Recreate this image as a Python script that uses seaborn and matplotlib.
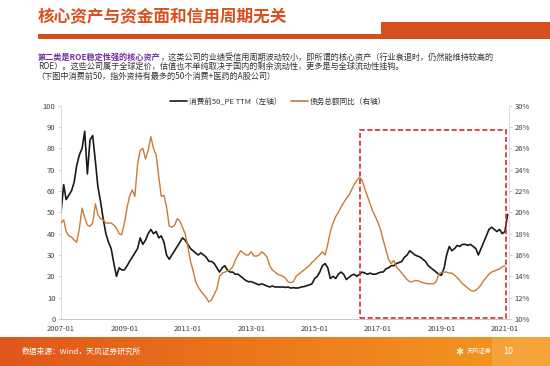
import pandas as pd
import matplotlib.pyplot as plt
import matplotlib.dates as mdates
from matplotlib.patches import Rectangle
from matplotlib.lines import Line2D
from matplotlib.colors import LinearSegmentedColormap
import numpy as np
import seaborn as sns

# 消费前50_PE TTM (left axis), monthly, 2007-01 .. 2021-02
pe_ttm = [
    50, 63, 56, 58, 60, 64, 72, 77, 80, 88, 68, 84,          # 2007
    86, 74, 62, 55, 47, 40, 36, 33, 26, 20, 24, 23,          # 2008
    23, 25, 27, 29, 31, 33, 38, 35, 37, 40, 42, 40,          # 2009
    41, 38, 39, 36, 30, 28, 30, 32, 34, 36, 38, 37,          # 2010
    35, 33, 32, 31, 30, 31, 30, 29, 27, 27, 26, 24,          # 2011
    22, 24, 25, 23, 22, 22, 21, 21, 20, 19, 18, 17.5,        # 2012
    17.5, 17, 16.5, 16, 16.5, 16, 15.5, 15, 15.5, 15, 15, 15,  # 2013
    15, 14.8, 15, 14.5, 14.7, 14.5, 14.6, 15, 15.2, 15.6, 16, 16.5,  # 2014
    19, 20, 22, 25, 26, 24, 19, 20, 19, 21, 22, 21,          # 2015
    18.5, 19.5, 20.5, 21, 20, 21, 22, 21.5, 21, 21.5, 21, 21,  # 2016
    21.5, 22, 22, 23.5, 24, 25, 25, 26, 26.5, 27, 29, 30,    # 2017
    32, 31, 30, 29.5, 29, 28, 27, 25, 24, 23, 22, 21,        # 2018
    20.5, 24, 30, 34, 32, 33, 34.5, 34, 35, 35, 34.5, 35,    # 2019
    34, 33, 30, 33, 36, 39, 42, 43, 42, 41, 42, 40,          # 2020
    41, 49,                                                  # 2021
]

# 债务总额同比 (right axis, %), monthly, 2007-01 .. 2021-01
debt_yoy = [
    19.0, 19.3, 18.2, 17.8, 17.7, 17.4, 17.2, 18.5, 20.4, 19.5, 18.8, 18.7,  # 2007
    19.0, 20.8, 19.8, 19.4, 19.3, 19.0, 19.0, 19.0, 18.8, 18.5, 18.0, 17.9,  # 2008
    19.0, 20.5, 21.5, 22.1, 21.5, 24.5, 25.8, 26.0, 25.0, 25.8, 27.1, 26.0,  # 2009
    25.4, 23.3, 21.5, 21.6, 20.5, 18.7, 18.6, 18.8, 19.4, 19.2, 18.6, 18.0,  # 2010
    16.8, 15.4, 14.6, 13.5, 13.0, 12.6, 12.3, 12.0, 11.6, 11.8, 12.3, 12.8,  # 2011
    14.0, 14.3, 14.4, 14.5, 14.6, 14.9, 15.5, 16.0, 16.4, 16.2, 16.0, 16.0,  # 2012
    16.3, 15.9, 15.9, 16.0, 16.3, 16.1, 15.8, 15.0, 14.6, 14.4, 14.2, 14.1,  # 2013
    14.0, 13.8, 13.5, 13.4, 13.5, 14.0, 14.2, 14.4, 14.6, 14.8, 15.0, 15.3,  # 2014
    15.5, 15.8, 16.0, 16.3, 16.0, 17.0, 18.2, 19.0, 19.6, 20.0, 20.5, 20.9,  # 2015
    21.3, 21.6, 22.1, 22.6, 23.0, 23.3, 23.0, 22.2, 21.5, 20.8, 20.1, 19.6,  # 2016
    19.0, 18.3, 17.4, 16.5, 15.6, 15.2, 15.5, 14.9, 14.6, 14.3, 14.0, 13.7,  # 2017
    13.5, 13.5, 13.6, 13.6, 13.5, 13.4, 13.35, 13.3, 13.3, 13.3, 13.5, 14.2, # 2018
    14.4, 14.4, 14.4, 14.3, 14.3, 14.1, 13.9, 13.6, 13.3, 13.1, 12.9, 12.7,  # 2019
    12.6, 12.7, 12.9, 13.2, 13.6, 13.9, 14.2, 14.4, 14.5, 14.6, 14.7, 14.9,  # 2020
    15.0,                                                                    # 2021
]

pe_df = pd.DataFrame({"date": pd.date_range("2007-01-01", periods=len(pe_ttm), freq="MS"),
                      "pe": pe_ttm})
debt_df = pd.DataFrame({"date": pd.date_range("2007-01-01", periods=len(debt_yoy), freq="MS"),
                        "yoy": debt_yoy})

sns.set_theme(style="white")
plt.rcParams["font.family"] = ["Noto Sans CJK SC", "DejaVu Sans"]

W, H = 550, 366
fig = plt.figure(figsize=(5.5, 3.66), dpi=100)
fig.patch.set_facecolor("white")

# header
fig.text(38 / W, 1 - 17 / H, "核心资产与资金面和信用周期无关", fontsize=12, fontweight="bold",
         color="#D9501E", va="center")
fig.add_artist(Rectangle((38 / W, 1 - 39 / H), (381 - 38) / W, 5 / H,
                         transform=fig.transFigure, color="#D4501C", lw=0))
fig.add_artist(Rectangle((381 / W, 1 - 39.3 / H), (W - 381) / W, 17.6 / H,
                         transform=fig.transFigure, color="#D4501C", lw=0))

# paragraph
fs = 5.9
t1 = fig.text(38 / W, 1 - 57 / H, "第二类是ROE稳定性强的核心资产", fontsize=fs, fontweight="bold",
              color="#7030A0", va="center")
fig.canvas.draw()
bb = t1.get_window_extent()
fig.text(bb.x1 / fig.bbox.width, 1 - 57 / H,
         "，这类公司的业绩受信用周期波动较小，即所谓的核心资产（行业衰退时，仍然能维持较高的",
         fontsize=fs, color="#333333", va="center")
fig.text(38 / W, 1 - 66.5 / H,
         "ROE）。这些公司属于全球定价，估值也不单纯取决于国内的剩余流动性，更多是与全球流动性挂钩。",
         fontsize=fs, color="#333333", va="center")
fig.text(36 / W, 1 - 76 / H, "（下图中消费前50，指外资持有最多的50个消费+医药的A股公司）",
         fontsize=fs, color="#333333", va="center")

# chart
ax = fig.add_axes([61 / W, 47 / H, 448 / W, 213.3 / H])
ax2 = ax.twinx()

sns.lineplot(data=pe_df, x="date", y="pe", ax=ax, color="#1a1a1a", lw=1.2)
sns.lineplot(data=debt_df, x="date", y="yoy", ax=ax2, color="#C77C35", lw=1.0)

ax.set_xlim(pd.Timestamp("2007-01-01"), pd.Timestamp("2021-02-17"))
ax.set_ylim(0, 100)
ax2.set_ylim(10, 30)
ax.set_yticks(range(0, 101, 10))
ax2.set_yticks(range(10, 31, 2))
ax2.yaxis.set_major_formatter(lambda v, p: f"{v:.0f}%")
ax.set_xticks(pd.date_range("2007-01-01", "2021-01-01", freq="24MS"))
ax.xaxis.set_major_formatter(mdates.DateFormatter("%Y-%m"))
for a in (ax, ax2):
    a.set_xlabel("")
    a.set_ylabel("")
    a.spines["top"].set_visible(False)
    a.tick_params(labelsize=5.5, labelcolor="#404040", length=2, width=0.5,
                  color="#bfbfbf", pad=2)
ax.spines["left"].set_color("#d9d9d9")
ax.spines["bottom"].set_color("#bfbfbf")
ax.spines["right"].set_visible(False)
ax2.spines["left"].set_visible(False)
ax2.spines["bottom"].set_visible(False)
ax2.spines["right"].set_color("#d9d9d9")
for s in ("left", "bottom"):
    ax.spines[s].set_linewidth(0.6)
ax2.spines["right"].set_linewidth(0.6)

# highlighted window
x0 = mdates.date2num(pd.Timestamp("2016-06-12"))
x1 = mdates.date2num(pd.Timestamp("2021-01-12"))
ax2.add_patch(Rectangle((x0, 10.1), x1 - x0, 27.7 - 10.1, fill=False, ec="#E3262B",
                        lw=1.2, ls=(0, (3, 1.6)), zorder=5))

handles = [Line2D([], [], color="#1a1a1a", lw=1.2), Line2D([], [], color="#C77C35", lw=1.2)]
fig.legend(handles, ["消费前50_PE TTM（左轴）", "债务总额同比（右轴）"], loc="center",
           bbox_to_anchor=(278 / W, 1 - 102 / H), ncol=2, frameon=False, fontsize=5.5,
           handlelength=2.2, handletextpad=0.3, columnspacing=1.2, labelcolor="#333333")

# footer
fax = fig.add_axes([0, 0, 1, 29 / H])
grad = np.linspace(0, 1, 256).reshape(1, -1)
cmap = LinearSegmentedColormap.from_list("band", ["#E0561B", "#EC7A1C", "#F39A22"])
fax.imshow(grad, aspect="auto", cmap=cmap, extent=[0, 1, 0, 1])
fax.add_patch(Rectangle((492 / W, 0), (W - 492) / W, 1, color="#F6AE4E", alpha=0.55, lw=0))
fax.set_xlim(0, 1)
fax.set_ylim(0, 1)
fax.axis("off")
fig.text(22 / W, 14 / H, "数据来源：Wind，天风证券研究所", fontsize=5.6, color="white", va="center")
fig.text(455 / W, 14 / H, "✱", fontsize=7, color="#FFF3C0", va="center", family="DejaVu Sans")
fig.text(467 / W, 14.5 / H, "天风证券", fontsize=4.5, color="white", va="center")
fig.text(503 / W, 14 / H, "10", fontsize=6.5, color="white", va="center")

fig.savefig("out.png", dpi=100)
